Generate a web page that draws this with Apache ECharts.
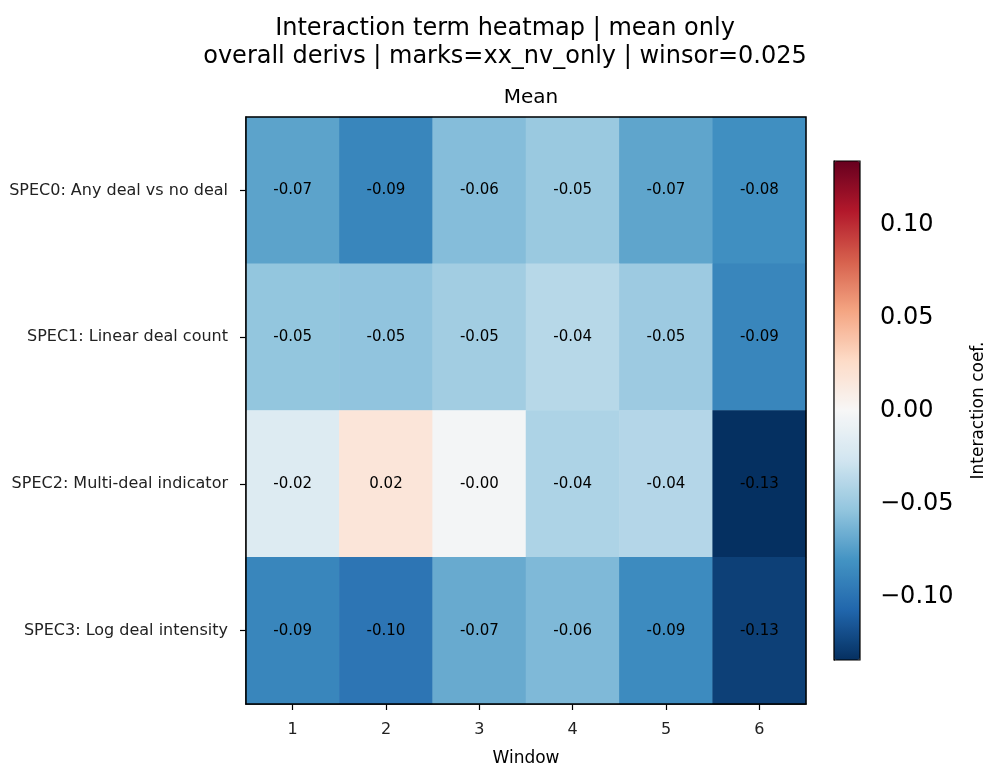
<!DOCTYPE html>
<html>
<head>
<meta charset="utf-8">
<script src="https://cdn.jsdelivr.net/npm/echarts@6/dist/echarts.min.js"></script>
<style>html,body{margin:0;padding:0;background:#fff}#c{width:988px;height:767px}</style>
</head>
<body>
<div id="c"></div>
<script>
const windows = ['1', '2', '3', '4', '5', '6'];
const specs = ['SPEC0: Any deal vs no deal', 'SPEC1: Linear deal count', 'SPEC2: Multi-deal indicator', 'SPEC3: Log deal intensity'];
const spec0 = [-0.072, -0.088, -0.058, -0.050, -0.071, -0.083];
const spec1 = [-0.053, -0.054, -0.047, -0.038, -0.049, -0.088];
const spec2 = [-0.018, 0.017, -0.003, -0.042, -0.039, -0.134];
const spec3 = [-0.088, -0.098, -0.068, -0.060, -0.085, -0.126];
const colorTicks = [-0.10, -0.05, 0.00, 0.05, 0.10];
const vLimit = 0.134;

const rows = [spec0, spec1, spec2, spec3];
const data = [];
rows.forEach((r, yi) => r.forEach((v, xi) => data.push([xi, yi, v])));

const FONT = 'DejaVu Sans';
const chart = echarts.init(document.getElementById('c'));
chart.setOption({
  animation: false,
  textStyle: { fontFamily: FONT },
  title: [
    { text: 'Interaction term heatmap | mean only\noverall derivs | marks=xx_nv_only | winsor=0.025',
      left: 500, top: 10, textAlign: 'center',
      textStyle: { fontFamily: FONT, fontSize: 24, fontWeight: 'normal', color: '#000', lineHeight: 28 } },
    { text: 'Mean', left: 526, top: 83, textAlign: 'center',
      textStyle: { fontFamily: FONT, fontSize: 20, fontWeight: 'normal', color: '#000' } }
  ],
  grid: [
    { left: 246, top: 117, width: 560, height: 587, show: true, borderColor: '#000', borderWidth: 1.5, backgroundColor: 'transparent', z: 10, outerBoundsMode: 'none', containLabel: false },
    { left: 834, top: 161, width: 26, height: 499, show: true, borderColor: '#000', borderWidth: 1.2, backgroundColor: 'transparent', z: 10, outerBoundsMode: 'none', containLabel: false }
  ],
  xAxis: [
    { type: 'category', data: windows, gridIndex: 0,
      axisLine: { show: true, lineStyle: { color: '#000', width: 1.5 } }, splitLine: { show: false },
      axisTick: { show: true, alignWithLabel: true, length: 6, lineStyle: { color: '#000', width: 1.2 } },
      axisLabel: { color: '#222', fontSize: 16, margin: 18 },
      name: 'Window', nameLocation: 'middle', nameGap: 46,
      nameTextStyle: { color: '#000', fontSize: 17 } },
    { type: 'value', gridIndex: 1, show: false }
  ],
  yAxis: [
    { type: 'category', data: specs, gridIndex: 0, inverse: true,
      axisLine: { show: true, lineStyle: { color: '#000', width: 1.5 } }, splitLine: { show: false },
      axisTick: { show: true, alignWithLabel: true, length: 6, lineStyle: { color: '#000', width: 1.2 } },
      axisLabel: { color: '#222', fontSize: 16, margin: 18 } },
    { type: 'value', gridIndex: 1, position: 'right', min: -vLimit, max: vLimit,
      axisLine: { show: true, lineStyle: { color: '#000', width: 1.2 } }, splitLine: { show: false },
      axisTick: { show: true, length: 6, customValues: colorTicks, lineStyle: { color: '#000', width: 1.2 } },
      axisLabel: { show: true, customValues: colorTicks, fontSize: 24, color: '#000', margin: 20,
        formatter: v => (v < -1e-9 ? '\u2212' : '') + Math.abs(v).toFixed(2) },
      name: 'Interaction coef.', nameLocation: 'middle', nameRotate: 90, nameGap: 110,
      nameTextStyle: { fontSize: 17, color: '#000' } }
  ],
  visualMap: {
    type: 'continuous', min: -vLimit, max: vLimit, calculable: false, show: true,
    seriesIndex: 0, orient: 'vertical', left: 834, top: 161, itemWidth: 26, itemHeight: 499,
    text: null, showLabel: false, padding: 0,
    inRange: { color: ['#053061', '#2166ac', '#4393c3', '#92c5de', '#d1e5f0', '#f7f7f7', '#fddbc7', '#f4a582', '#d6604d', '#b2182b', '#67001f'] }
  },
  series: [{
    type: 'heatmap', xAxisIndex: 0, yAxisIndex: 0, data: data,
    label: { show: true, color: '#000', fontSize: 15,
      formatter: p => p.value[2].toFixed(2) },
    itemStyle: { borderWidth: 0 },
    emphasis: { disabled: true }
  }]
});
</script>
</body>
</html>
